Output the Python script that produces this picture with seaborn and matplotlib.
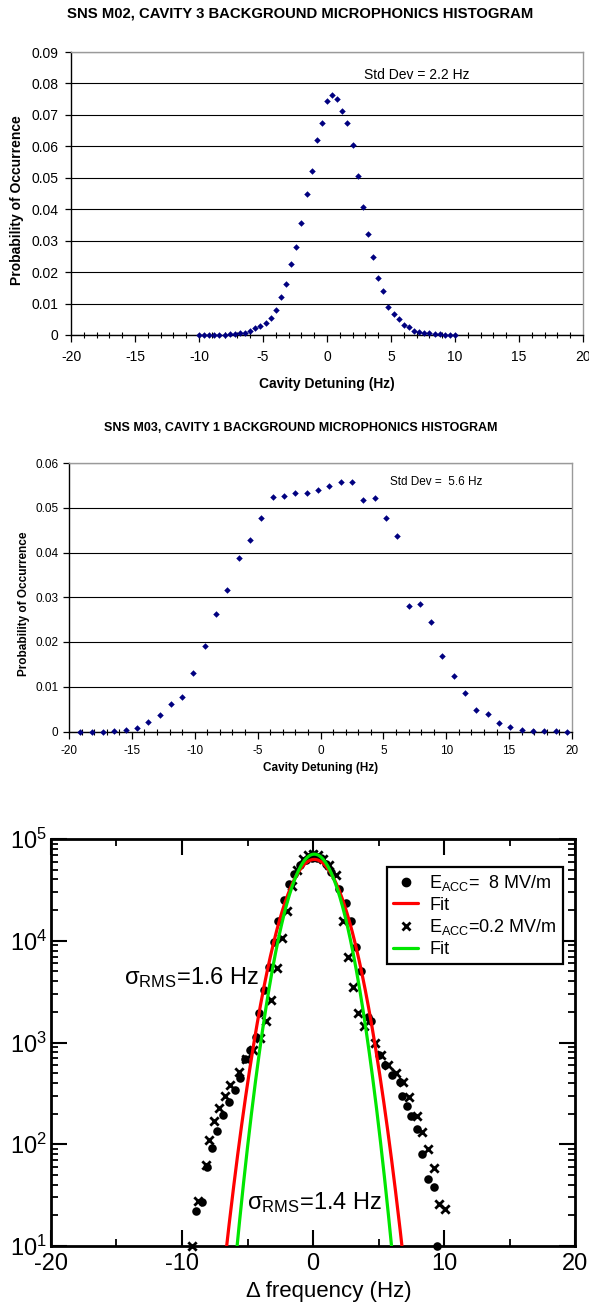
import numpy as np
import pandas as pd
import matplotlib
matplotlib.use("Agg")
import matplotlib.pyplot as plt
import seaborn as sns
from matplotlib.ticker import MultipleLocator, FuncFormatter, LogLocator, NullFormatter
from matplotlib.lines import Line2D

sns.set_theme(style="white")
plt.rcParams['font.family'] = ['Liberation Sans', 'DejaVu Sans']
plt.rcParams['axes.unicode_minus'] = False
plt.rcParams['mathtext.fontset'] = 'custom'
plt.rcParams['mathtext.rm'] = 'Liberation Sans'
plt.rcParams['mathtext.it'] = 'Liberation Sans:italic'
plt.rcParams['mathtext.bf'] = 'Liberation Sans:bold'

# ---------------- data: panel 1 (SNS M02, cavity 3) ----------------
m02_detuning = [-10.0, -9.6, -9.2, -8.8, -8.4, -8.0, -7.6, -7.2, -6.8, -6.4,
                -6.0, -5.6, -5.2, -4.8, -4.4, -4.0, -3.6, -3.2, -2.8, -2.4,
                -2.0, -1.6, -1.2, -0.8, -0.4, 0.0, 0.4, 0.8, 1.2, 1.6,
                2.0, 2.4, 2.8, 3.2, 3.6, 4.0, 4.4, 4.8, 5.2, 5.6,
                6.0, 6.4, 6.8, 7.2, 7.6, 8.0, 8.4, 8.8, 9.2, 9.6, 10.0]
m02_prob = [0, 0, 0, 0, 0, 0.0001, 0.0002, 0.0004, 0.0005, 0.0007,
            0.0014, 0.0022, 0.0029, 0.0039, 0.0055, 0.0080, 0.0121, 0.0162, 0.0225, 0.0281,
            0.0355, 0.0448, 0.0521, 0.0620, 0.0675, 0.0743, 0.0763, 0.0749, 0.0712, 0.0675,
            0.0603, 0.0505, 0.0408, 0.0322, 0.0247, 0.0180, 0.0140, 0.0090, 0.0067, 0.0050,
            0.0031, 0.0025, 0.0014, 0.0010, 0.0006, 0.0005, 0.0003, 0.0003, 0.0001, 0.0001, 0]

# ---------------- data: panel 2 (SNS M03, cavity 1) ----------------
m03_detuning = [-19.1, -18.2, -17.3, -16.4, -15.5, -14.6, -13.7, -12.8, -11.9, -11.0,
                -10.1, -9.2, -8.3, -7.4, -6.5, -5.6, -4.7, -3.8, -2.9, -2.0,
                -1.1, -0.2, 0.7, 1.6, 2.5, 3.4, 4.3, 5.2, 6.1, 7.0,
                7.9, 8.8, 9.7, 10.6, 11.5, 12.4, 13.3, 14.2, 15.1, 16.0,
                16.9, 17.8, 18.7, 19.6]
m03_prob = [0, 0, 0, 0.0002, 0.0004, 0.0008, 0.0021, 0.0036, 0.0061, 0.0078,
            0.0130, 0.0192, 0.0262, 0.0317, 0.0388, 0.0429, 0.0476, 0.0524, 0.0527, 0.0534,
            0.0534, 0.0540, 0.0548, 0.0557, 0.0557, 0.0518, 0.0521, 0.0476, 0.0437, 0.0280,
            0.0284, 0.0244, 0.0168, 0.0124, 0.0085, 0.0048, 0.0039, 0.0019, 0.0009, 0.0003,
            0.0002, 0.0001, 0.0001, 0]

# ---------------- data: panel 3 (log histogram) ----------------
eacc8_freq = [-8.92, -8.49, -8.12, -7.68, -7.31, -6.85, -6.42, -5.99, -5.61, -5.18,
              -4.81, -4.32, -4.11, -3.73, -3.35, -3.01, -2.66, -2.25, -1.81, -1.43,
              -0.98, -0.54, -0.10, 0.30, 0.61, 1.00, 1.38, 2.01, 2.53, 2.91,
              3.30, 3.68, 4.19, 4.46, 5.04, 5.47, 6.04, 6.62, 6.76, 7.19,
              7.48, 7.91, 8.29, 8.78, 9.21, 9.50]
eacc8_counts = [22, 27, 60, 91, 135, 195, 263, 339, 447, 692,
                851, 1120, 1950, 3310, 5500, 9770, 15800, 25100, 36300, 45700,
                55000, 61700, 64600, 64600, 64600, 56200, 47900, 32400, 23400, 15500,
                8700, 5000, 1780, 1620, 760, 600, 480, 410, 300, 240,
                190, 141, 81, 46, 38, 10]
eacc02_freq = [-9.21, -8.78, -8.20, -7.97, -7.54, -7.19, -6.68, -6.33, -5.67, -5.09,
               -4.60, -4.03, -3.60, -3.17, -2.71, -2.39, -2.01, -1.58, -1.20, -0.80,
               -0.40, 0.00, 0.40, 0.80, 1.20, 1.76, 2.27, 2.66, 3.04, 3.43,
               3.88, 4.75, 5.18, 5.76, 6.33, 6.85, 7.34, 7.91, 8.35, 8.78,
               9.21, 9.64, 10.07]
eacc02_counts = [10, 28, 63, 110, 170, 229, 295, 380, 513, 692,
                 851, 1100, 1620, 2630, 5370, 10700, 19500, 34700, 50100, 63100,
                 69200, 70800, 69200, 63100, 55000, 44700, 15500, 6900, 3550, 1950,
                 1450, 980, 760, 600, 500, 410, 290, 190, 132, 89,
                 59, 26, 23]
fit_labels = ['Fit', 'Fit']
fit_amplitude = [6.3e4, 7.1e4]
fit_center = [0.1, 0.1]
fit_sigma = [1.6, 1.4]
fit_colors = ['#ff0000', '#00e600']

W, H = 589, 1303
fig = plt.figure(figsize=(W / 100, H / 100), dpi=100)
fig.patch.set_facecolor('white')


def rect(l, t, r, b):
    return [l / W, 1 - b / H, (r - l) / W, (b - t) / H]


def excel_panel(ax, xs, ys, ymax, fs_tick, fs_lab, fs_title, title, title_y, note, note_xy,
                ylab_x, xlab_y, ytick_pad, xtick_pad):
    sns.scatterplot(x=xs, y=ys, ax=ax, marker='D', s=11, color='#000080',
                    linewidth=0, zorder=3, clip_on=False)
    ax.set_xlim(-20, 20)
    ax.set_ylim(0, ymax)
    ax.xaxis.set_major_locator(MultipleLocator(5))
    ax.xaxis.set_minor_locator(MultipleLocator(1))
    ax.yaxis.set_major_locator(MultipleLocator(0.01))
    ax.yaxis.set_major_formatter(FuncFormatter(lambda v, p: '0' if abs(v) < 1e-9 else f'{v:.2f}'))
    ax.grid(axis='y', color='black', lw=0.8)
    ax.grid(axis='x', visible=False)
    ax.set_axisbelow(True)
    for s in ['left', 'bottom']:
        ax.spines[s].set_color('black')
        ax.spines[s].set_linewidth(1.0)
    for s in ['top', 'right']:
        ax.spines[s].set_color('#9a9a9a')
        ax.spines[s].set_linewidth(1.0)
    ax.tick_params(axis='x', which='major', bottom=True, direction='out', length=5,
                   width=0.9, color='black', labelsize=fs_tick, pad=xtick_pad, labelcolor='black')
    ax.tick_params(axis='x', which='minor', bottom=True, direction='inout', length=5,
                   width=0.8, color='black')
    ax.tick_params(axis='y', which='major', left=True, direction='out', length=4,
                   width=0.9, color='black', labelsize=fs_tick, pad=ytick_pad, labelcolor='black')
    ax.set_xlabel('Cavity Detuning (Hz)', fontsize=fs_lab, fontweight='bold', color='black')
    ax.set_ylabel('Probability of Occurrence', fontsize=fs_lab, fontweight='bold', color='black')
    ax.xaxis.set_label_coords(0.5, xlab_y)
    ax.xaxis.label.set_va('center')
    ax.yaxis.set_label_coords(ylab_x, 0.475)
    ax.yaxis.label.set_va('center')
    ax.text(note_xy[0], note_xy[1], note, fontsize=fs_tick, va='center', ha='left', color='black')
    fig.text(300.5 / W, 1 - title_y / H, title, fontsize=fs_title, fontweight='bold',
             ha='center', va='center', color='black')


# Panel 1
ax1 = fig.add_axes(rect(71, 52, 583, 335))
excel_panel(ax1, m02_detuning, m02_prob, 0.09, 10, 10, 10.7,
            'SNS M02, CAVITY 3 BACKGROUND MICROPHONICS HISTOGRAM', 14,
            'Std Dev = 2.2 Hz', (2.9, 0.0828), -0.105, -0.173, 5, 6)

# Panel 2
ax2 = fig.add_axes(rect(69, 463, 572, 731.5))
excel_panel(ax2, m03_detuning, m03_prob, 0.06, 8.5, 8.5, 9.0,
            'SNS M03, CAVITY 1 BACKGROUND MICROPHONICS HISTOGRAM', 428,
            'Std Dev =  5.6 Hz', (5.5, 0.0558), -0.0885, -0.136, 3.5, 5)

# Panel 3
ax3 = fig.add_axes(rect(51, 839, 575, 1246))
ax3.set_yscale('log')
sns.scatterplot(x=eacc8_freq, y=eacc8_counts, ax=ax3, marker='o', s=38, color='black',
                linewidth=0, zorder=3, clip_on=False)
sns.scatterplot(x=eacc02_freq, y=eacc02_counts, ax=ax3, marker='x', s=36, color='black',
                linewidth=2.0, zorder=3, clip_on=False)
xfit = np.linspace(-20, 20, 801)
for amp, c0, sg, col in zip(fit_amplitude, fit_center, fit_sigma, fit_colors):
    fit_df = pd.DataFrame({'f': xfit, 'n': amp * np.exp(-(xfit - c0) ** 2 / (2 * sg ** 2))})
    sns.lineplot(data=fit_df, x='f', y='n', ax=ax3, color=col, lw=2.3, zorder=4)
ax3.set_xlim(-20, 20)
ax3.set_ylim(10, 1e5)
ax3.xaxis.set_major_locator(MultipleLocator(10))
ax3.xaxis.set_minor_locator(MultipleLocator(5))
ax3.yaxis.set_major_locator(LogLocator(base=10, numticks=10))
ax3.yaxis.set_minor_locator(LogLocator(base=10, subs=np.arange(2, 10), numticks=20))
ax3.yaxis.set_minor_formatter(NullFormatter())
ax3.grid(False)
for s in ax3.spines.values():
    s.set_color('black')
    s.set_linewidth(2.0)
ax3.tick_params(which='major', direction='in', length=11.5, width=1.5, color='black',
                top=True, bottom=True, left=True, right=True, labelsize=17, labelcolor='black')
ax3.tick_params(which='minor', direction='in', length=5, width=1.3, color='black',
                top=True, bottom=True, left=True, right=True)
ax3.tick_params(axis='y', which='major', pad=3)
ax3.tick_params(axis='x', which='major', pad=5)
ax3.set_xlabel('Δ frequency (Hz)', fontsize=16, color='black')
ax3.set_ylabel('')
ax3.xaxis.set_label_coords(0.53, -0.113)
ax3.xaxis.label.set_va('center')
ax3.text(-14.43, 10 ** 3.57, 'σ$_{\\rm RMS}$=1.6 Hz', fontsize=17, va='baseline', ha='left', color='black')
ax3.text(-5.04, 10 ** 1.36, 'σ$_{\\rm RMS}$=1.4 Hz', fontsize=17, va='baseline', ha='left', color='black')

handles = [
    Line2D([], [], marker='o', color='black', ls='none', markersize=6),
    Line2D([], [], color=fit_colors[0], lw=2.3),
    Line2D([], [], marker='x', color='black', ls='none', markersize=6, markeredgewidth=2),
    Line2D([], [], color=fit_colors[1], lw=2.3),
]
labels = ['E$_{\\rm ACC}$=  8 MV/m', fit_labels[0], 'E$_{\\rm ACC}$=0.2 MV/m', fit_labels[1]]
leg = ax3.legend(handles, labels, loc='upper left', bbox_to_anchor=(0.641, 0.932),
                 fontsize=13, frameon=True, fancybox=False, framealpha=1, edgecolor='black',
                 handlelength=1.4, handletextpad=0.6, borderpad=0.35, labelspacing=0.2,
                 borderaxespad=0)
leg.get_frame().set_linewidth(1.6)
for t in leg.get_texts():
    t.set_color('black')

fig.savefig('out.png', dpi=100, facecolor='white')
